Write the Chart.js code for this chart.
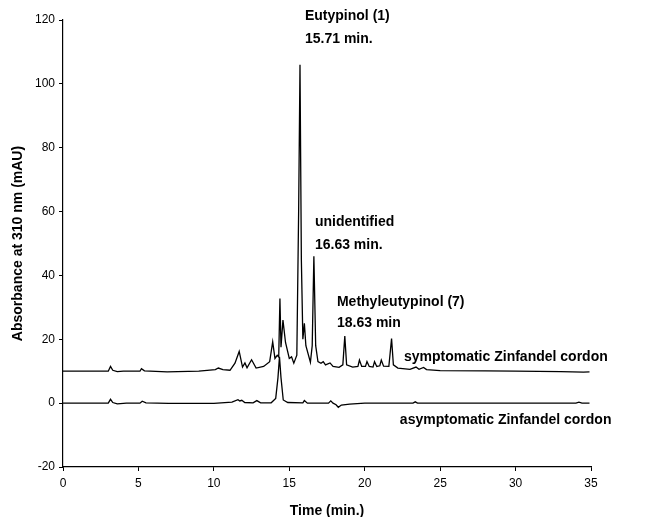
<!DOCTYPE html>
<html>
<head>
<meta charset="utf-8">
<script src="https://cdn.jsdelivr.net/npm/chart.js@4"></script>
<style>
  html, body { margin: 0; padding: 0; background: #fff; }
  #wrap { width: 650px; height: 517px; position: relative; }
</style>
</head>
<body>
<div id="wrap"><canvas id="chrom"></canvas></div>
<script>
// retention time (min.) and absorbance (mAU)
const symTime = [0, 3.0, 3.15, 3.3, 3.6, 4.0, 5.1, 5.2, 5.4, 6.9, 9, 10.1, 10.3, 10.6, 11.07, 11.4, 11.68, 11.9, 12.06, 12.2, 12.5, 12.8, 13.3, 13.7, 13.9, 14.05, 14.2, 14.3, 14.38, 14.45, 14.58, 14.75, 15.0, 15.15, 15.3, 15.5, 15.62, 15.71, 15.8, 15.9, 16.0, 16.1, 16.4, 16.52, 16.63, 16.75, 16.9, 17.1, 17.25, 17.4, 17.7, 17.9, 18.3, 18.55, 18.68, 18.8, 19.2, 19.55, 19.65, 19.8, 20.05, 20.15, 20.3, 20.55, 20.65, 20.8, 21.0, 21.1, 21.25, 21.6, 21.78, 21.9, 22.2, 23.0, 23.4, 23.6, 23.9, 24.1, 25, 28, 30, 33, 34.5, 34.9];
const symAbs = [10, 10, 11.5, 10.3, 9.9, 10, 10, 10.8, 10.1, 9.8, 10, 10.5, 11, 10.5, 10.3, 12.5, 16.2, 11.3, 12.6, 11.1, 13.6, 11.0, 11.5, 13, 19.2, 14, 15, 14.5, 32.8, 17.5, 26, 19, 14, 14.5, 12.5, 15, 60, 106, 45, 20, 25, 18, 12.8, 18, 46, 18, 13, 12.5, 13, 12, 12.6, 11.5, 11.2, 12, 21, 12, 11.3, 11.5, 13.5, 11.5, 11.5, 13, 11.5, 11.3, 13, 11.5, 11.7, 13.5, 11.6, 11.5, 20.2, 12, 11, 10.6, 11.3, 10.6, 11.2, 10.5, 10.2, 10.1, 10, 9.9, 9.7, 9.8];

const asymTime = [0, 3.0, 3.15, 3.3, 3.6, 4.2, 5.1, 5.25, 5.5, 7, 10, 11.2, 11.6, 11.72, 11.85, 12.05, 12.6, 12.85, 13.1, 13.8, 14.1, 14.25, 14.35, 14.45, 14.6, 14.9, 15.9, 16.0, 16.2, 17.6, 17.75, 17.9, 18.1, 18.25, 18.45, 19.0, 20, 23.2, 23.35, 23.5, 34, 34.2, 34.4, 34.9];
const asymAbs = [0, 0, 1.2, 0.2, -0.2, 0, 0, 0.6, 0.1, -0.1, -0.1, 0.3, 1.1, 0.7, 0.9, 0.2, 0.1, 0.8, 0.1, 0.1, 1.5, 8, 14.5, 8, 1, 0.2, 0.1, 0.8, 0, 0, 0.7, 0, -0.5, -1.3, -0.6, -0.3, 0, 0, 0.4, 0, 0, 0.3, 0, 0];

const xTicks = [0, 5, 10, 15, 20, 25, 30, 35];
const yTicks = [-20, 0, 20, 40, 60, 80, 100, 120];

// text labels: [time, absorbance, text]
const peakLabels = [
  [16.04, 121.3, 'Eutypinol (1)'],
  [16.04, 114.0, '15.71 min.'],
  [16.7, 56.6, 'unidentified'],
  [16.7, 49.4, '16.63 min.'],
  [18.16, 31.6, 'Methyleutypinol (7)'],
  [18.16, 25.0, '18.63 min'],
  [22.6, 14.4, 'symptomatic Zinfandel cordon'],
  [22.33, -5.3, 'asymptomatic Zinfandel cordon']
];

const FONT = '"Liberation Sans", Arial, Helvetica, sans-serif';

const toPoints = (xs, ys) => xs.map((x, i) => ({ x: x, y: ys[i] }));

const labelPlugin = {
  id: 'peakLabels',
  afterDatasetsDraw(chart) {
    const { ctx, scales } = chart;
    ctx.save();
    ctx.fillStyle = '#000';
    ctx.font = 'bold 14px ' + FONT;
    ctx.textAlign = 'left';
    ctx.textBaseline = 'middle';
    peakLabels.forEach(l => {
      ctx.fillText(l[2], scales.x.getPixelForValue(l[0]), scales.y.getPixelForValue(l[1]));
    });
    ctx.restore();
  }
};

new Chart(document.getElementById('chrom'), {
  type: 'line',
  data: {
    datasets: [{
      label: 'symptomatic Zinfandel cordon',
      data: toPoints(symTime, symAbs),
      borderColor: '#000',
      borderWidth: 1.3,
      pointRadius: 0,
      tension: 0
    }, {
      label: 'asymptomatic Zinfandel cordon',
      data: toPoints(asymTime, asymAbs),
      borderColor: '#000',
      borderWidth: 1.3,
      pointRadius: 0,
      tension: 0
    }]
  },
  options: {
    responsive: true,
    maintainAspectRatio: false,
    animation: false,
    layout: { padding: { left: 10, top: 20, right: 59, bottom: 0 } },
    plugins: {
      legend: { display: false },
      tooltip: { enabled: false }
    },
    scales: {
      x: {
        type: 'linear',
        min: 0,
        max: 35,
        afterBuildTicks: s => { s.ticks = xTicks.map(v => ({ value: v })); },
        afterFit: s => { s.height = 50; },
        grid: { drawOnChartArea: false, drawTicks: true, tickLength: 4, color: '#000' },
        border: { display: true, color: '#000', width: 1.2 },
        ticks: { color: '#000', font: { family: FONT, size: 12 }, padding: 5, maxRotation: 0 },
        title: { display: true, text: 'Time (min.)', color: '#000', font: { family: FONT, size: 14, weight: 'bold' }, padding: { top: 7, bottom: -3 } }
      },
      y: {
        min: -20,
        max: 120,
        afterBuildTicks: s => { s.ticks = yTicks.map(v => ({ value: v })); },
        afterFit: s => { s.width = 53; },
        grid: { drawOnChartArea: false, drawTicks: true, tickLength: 4, color: '#000' },
        border: { display: true, color: '#000', width: 1.2 },
        ticks: { color: '#000', font: { family: FONT, size: 12 }, padding: 4 },
        title: { display: true, text: 'Absorbance at 310 nm (mAU)', color: '#000', font: { family: FONT, size: 14, weight: 'bold' }, padding: { top: 0, bottom: 4 } }
      }
    }
  },
  plugins: [labelPlugin]
});
</script>
</body>
</html>
